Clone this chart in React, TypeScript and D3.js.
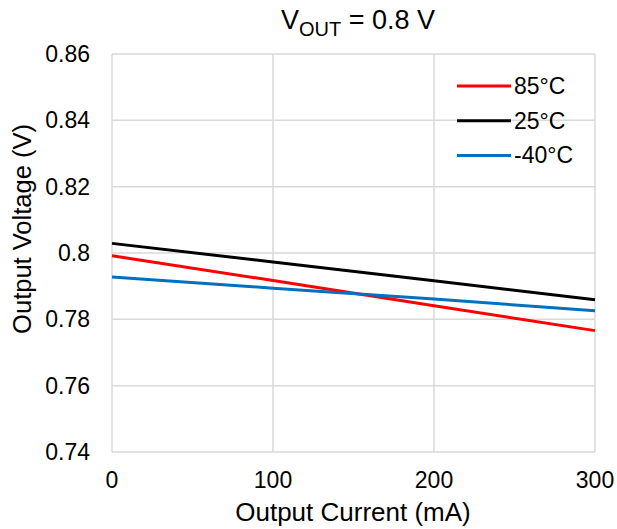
import React from "react";
import * as d3 from "d3";

const currents = [0, 100, 200, 300];
const v85 = [0.7992, 0.7917, 0.7841, 0.7766];
const v25 = [0.8029, 0.7973, 0.7916, 0.7859];
const vM40 = [0.7928, 0.7894, 0.7861, 0.7826];
const seriesNames = ["85°C", "25°C", "-40°C"];
const seriesColors = ["#ff0000", "#000000", "#0070c0"];
const xTicks = [0, 100, 200, 300];
const yTicks = [0.74, 0.76, 0.78, 0.8, 0.82, 0.84, 0.86];

export default function App() {
  const W = 617, H = 529;
  const left = 112, right = 595, top = 54, bottom = 452;
  const x = d3.scaleLinear().domain([0, 300]).range([left, right]);
  const y = d3.scaleLinear().domain([0.74, 0.86]).range([bottom, top]);
  const line = d3.line<[number, number]>().x(d => x(d[0])).y(d => y(d[1]));
  const all = [v85, v25, vM40];
  const font = "Liberation Sans, Arial, sans-serif";
  return (
    <svg width={W} height={H} style={{ position: "absolute", left: 0, top: 0 }} fontFamily={font}>
      <rect width={W} height={H} fill="#fff" />
      {yTicks.map(t => (
        <line key={"gy" + t} x1={left} x2={right} y1={y(t)} y2={y(t)} stroke="#d9d9d9" strokeWidth={1.5} />
      ))}
      {xTicks.map(t => (
        <line key={"gx" + t} x1={x(t)} x2={x(t)} y1={top} y2={bottom} stroke="#d9d9d9" strokeWidth={1.5} />
      ))}
      {all.map((s, i) => (
        <path key={i} d={line(currents.map((c, j) => [c, s[j]] as [number, number])) || ""} fill="none" stroke={seriesColors[i]} strokeWidth={3} />
      ))}
      {yTicks.map(t => (
        <text key={"ty" + t} x={90} y={y(t) + 8} textAnchor="end" fontSize={23} fill="#000">
          {d3.format("")(+t.toFixed(2))}
        </text>
      ))}
      {xTicks.map(t => (
        <text key={"tx" + t} x={x(t)} y={488} textAnchor="middle" fontSize={23} fill="#000">{t}</text>
      ))}
      <text x={353} y={521} textAnchor="middle" fontSize={26} fill="#000">Output Current (mA)</text>
      <text transform={`translate(31,229) rotate(-90)`} textAnchor="middle" fontSize={25.5} fill="#000">Output Voltage (V)</text>
      <text x={358} y={29} textAnchor="middle" fontSize={27} fill="#000">
        V<tspan fontSize={20} dy={7}>OUT</tspan><tspan dy={-7}> = 0.8 V</tspan>
      </text>
      {seriesNames.map((n, i) => {
        const ly = 86 + i * 34.7;
        return (
          <g key={n}>
            <line x1={457} x2={511} y1={ly} y2={ly} stroke={seriesColors[i]} strokeWidth={3} />
            <text x={514} y={ly + 7.8} fontSize={23} fill="#000">{n}</text>
          </g>
        );
      })}
    </svg>
  );
}
